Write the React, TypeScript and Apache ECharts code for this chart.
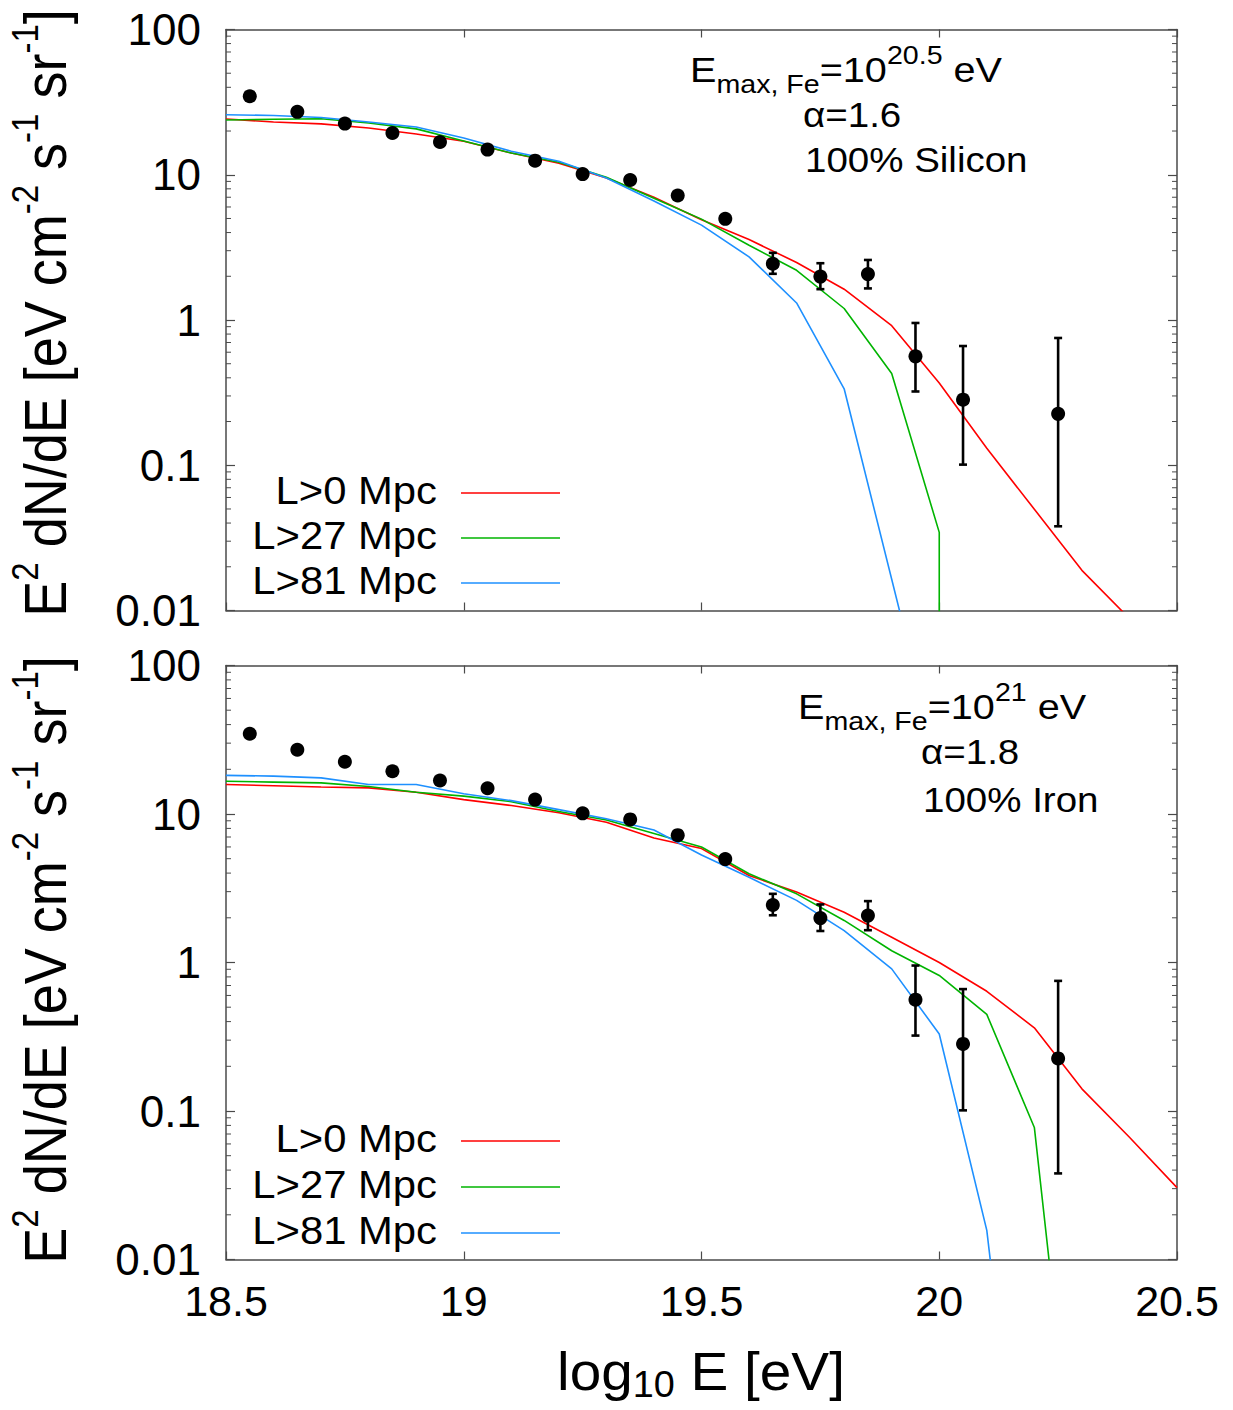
import React, { useEffect, useRef } from 'react';
import * as echarts from 'echarts';

const FONT = "'Liberation Sans', Arial, Helvetica, sans-serif";
const FRAME = '#4a4a4a';

// axis ticks
const xTickValues = [18.5, 19, 19.5, 20, 20.5];
const xTickLabels = ['18.5', '19', '19.5', '20', '20.5'];
const yTickValues = [0.01, 0.1, 1, 10, 100];
const yTickLabels = ['0.01', '0.1', '1', '10', '100'];
const minorTickValues = [
  0.02, 0.03, 0.04, 0.05, 0.06, 0.07, 0.08, 0.09,
  0.2, 0.3, 0.4, 0.5, 0.6, 0.7, 0.8, 0.9,
  2, 3, 4, 5, 6, 7, 8, 9,
  20, 30, 40, 50, 60, 70, 80, 90,
];

// model energy grid (log10 E)
const energyGrid = [18.5, 18.6, 18.7, 18.8, 18.9, 19.0, 19.1, 19.2, 19.3, 19.4, 19.5,
  19.6, 19.7, 19.8, 19.9, 20.0, 20.1, 20.2, 20.3, 20.4, 20.5];

// measured spectrum (same in both panels)
const dataEnergy = [18.55, 18.65, 18.75, 18.85, 18.95, 19.05, 19.15, 19.25, 19.35, 19.45,
  19.55, 19.65, 19.75, 19.85, 19.95, 20.05, 20.25];
const dataFlux = [34.7, 27.1, 22.5, 19.4, 16.8, 14.9, 12.5, 10.1, 9.2, 7.2,
  4.97, 2.44, 1.99, 2.07, 0.562, 0.283, 0.226];
const errEnergy = [19.65, 19.75, 19.85, 19.95, 20.05, 20.25];
const errLow = [2.08, 1.63, 1.65, 0.322, 0.101, 0.038];
const errHigh = [2.9, 2.46, 2.59, 0.954, 0.662, 0.752];

// panel 1: 100% Silicon, Emax,Fe = 10^20.5 eV, alpha = 1.6
const siL0 = [24.2, 23.1, 22.4, 21.0, 19.1, 17.0, 14.1, 12.0, 9.5, 7.0, 4.9,
  3.58, 2.49, 1.63, 0.914, 0.368, 0.131, 0.0497, 0.0189, 0.0088];
const siL27 = [23.8, 24.1, 24.3, 22.7, 20.7, 17.1, 14.1, 12.2, 9.6, 6.9, 4.95,
  3.27, 2.2, 1.2, 0.428, 0.0345];
const siL27Cutoff = 0.001;
const siL81 = [25.9, 25.6, 24.8, 23.1, 21.3, 17.9, 14.5, 12.4, 9.5, 6.6, 4.5,
  2.72, 1.31, 0.336, 0.0164, 0.0008];

// panel 2: 100% Iron, Emax,Fe = 10^21 eV, alpha = 1.8
const feL0 = [15.8, 15.5, 15.2, 15.0, 14.0, 12.5, 11.4, 10.2, 8.8, 6.9, 5.85,
  3.85, 2.98, 2.18, 1.48, 1.0, 0.64, 0.363, 0.141, 0.0665, 0.0305];
const feL27 = [16.6, 16.4, 16.2, 15.3, 14.0, 13.2, 12.1, 10.4, 9.1, 7.4, 6.0,
  3.96, 2.9, 1.92, 1.2, 0.818, 0.447, 0.0775, 0.0001];
const feL81 = [18.2, 18.0, 17.5, 15.8, 15.8, 13.7, 12.3, 10.7, 9.3, 7.8, 5.3,
  3.75, 2.62, 1.64, 0.906, 0.33, 0.0157, 0.00003];

const seriesNames = ['L>0 Mpc', 'L>27 Mpc', 'L>81 Mpc'];
const seriesColors = ['#ff0000', '#00b400', '#1e90ff'];

function pairs(values: number[]) {
  return values.map((v, i) => [energyGrid[i], v]);
}

function lineSeries(panel: number, idx: number, data: number[][]) {
  return {
    name: seriesNames[idx],
    type: 'line',
    xAxisIndex: panel * 2,
    yAxisIndex: panel * 2,
    data,
    showSymbol: false,
    symbol: 'none',
    lineStyle: { color: seriesColors[idx], width: 1.6 },
    itemStyle: { color: seriesColors[idx] },
    clip: true,
    silent: true,
    z: 2,
  };
}

function pointSeries(panel: number) {
  return {
    name: 'data',
    type: 'scatter',
    xAxisIndex: panel * 2,
    yAxisIndex: panel * 2,
    data: dataEnergy.map((e, i) => [e, dataFlux[i]]),
    symbol: 'circle',
    symbolSize: 14,
    itemStyle: { color: '#000', opacity: 1 },
    silent: true,
    z: 5,
  };
}

function errorSeries(panel: number) {
  return {
    type: 'custom',
    xAxisIndex: panel * 2,
    yAxisIndex: panel * 2,
    data: errEnergy.map((e, i) => [e, errLow[i], errHigh[i]]),
    encode: { x: 0, y: [1, 2] },
    silent: true,
    z: 4,
    renderItem: (params: any, api: any) => {
      const x = api.value(0);
      const lo = api.coord([x, api.value(1)]);
      const hi = api.coord([x, api.value(2)]);
      const c = 4;
      const st = { stroke: '#000', lineWidth: 2.6 };
      return {
        type: 'group',
        children: [
          { type: 'line', shape: { x1: lo[0], y1: lo[1], x2: hi[0], y2: hi[1] }, style: st },
          { type: 'line', shape: { x1: lo[0] - c, y1: lo[1], x2: lo[0] + c, y2: lo[1] }, style: st },
          { type: 'line', shape: { x1: hi[0] - c, y1: hi[1], x2: hi[0] + c, y2: hi[1] }, style: st },
        ],
      };
    },
  };
}

function minorTickSeries(panel: number) {
  return {
    type: 'custom',
    xAxisIndex: panel * 2,
    yAxisIndex: panel * 2,
    data: minorTickValues.map((v) => [xTickValues[0], v]),
    encode: { x: 0, y: 1 },
    silent: true,
    clip: false,
    z: 6,
    renderItem: (params: any, api: any) => {
      const v = api.value(1);
      const l = api.coord([xTickValues[0], v]);
      const r = api.coord([xTickValues[xTickValues.length - 1], v]);
      const st = { stroke: FRAME, lineWidth: 1 };
      return {
        type: 'group',
        children: [
          { type: 'line', shape: { x1: l[0], y1: l[1], x2: l[0] + 5, y2: l[1] }, style: st },
          { type: 'line', shape: { x1: r[0] - 5, y1: r[1], x2: r[0], y2: r[1] }, style: st },
        ],
      };
    },
  };
}

function yLabelFormatter(v: number) {
  const i = yTickValues.findIndex((t) => Math.abs(Math.log10(t) - Math.log10(v)) < 1e-6);
  return i >= 0 ? yTickLabels[i] : '';
}
function xLabelFormatter(v: number) {
  const i = xTickValues.findIndex((t) => Math.abs(t - v) < 1e-6);
  return i >= 0 ? xTickLabels[i] : '';
}

function buildOption() {
  const axisLine = { show: true, onZero: false, lineStyle: { color: FRAME, width: 1.5 } };
  const xCommon = {
    type: 'value', min: 18.5, max: 20.5, interval: 0.5,
    splitLine: { show: false }, axisLine,
    axisTick: { show: true, inside: true, length: 8, lineStyle: { color: FRAME, width: 1.2 } },
  };
  const yCommon = {
    type: 'log', logBase: 10, min: 0.01, max: 100,
    splitLine: { show: false }, axisLine,
    axisTick: { show: true, inside: true, length: 9, lineStyle: { color: FRAME, width: 1.2 } },
  };
  const xLabel = {
    show: true, fontSize: 43, color: '#000', fontFamily: FONT, margin: 20,
    showMinLabel: true, showMaxLabel: true, formatter: xLabelFormatter,
  };
  const yLabel = {
    show: true, fontSize: 44, color: '#000', fontFamily: FONT, margin: 25,
    showMinLabel: true, showMaxLabel: true, formatter: yLabelFormatter,
  };

  const series: any[] = [];
  const panels = [
    [pairs(siL0), [...pairs(siL27), [energyGrid[siL27.length - 1], siL27Cutoff]], pairs(siL81)],
    [pairs(feL0), pairs(feL27), pairs(feL81)],
  ];
  panels.forEach((curves, p) => {
    curves.forEach((d, i) => series.push(lineSeries(p, i, d)));
    series.push(errorSeries(p));
    series.push(pointSeries(p));
    series.push(minorTickSeries(p));
  });

  // rich styles
  const yRich = {
    b: { fontSize: 54, lineHeight: 54, padding: [8, 0, 0, 0], verticalAlign: 'top', fontFamily: FONT, color: '#000' },
    s: { fontSize: 33, lineHeight: 33, padding: [0, 0, 0, 0], verticalAlign: 'top', fontFamily: FONT, color: '#000' },
  };
  const yText = '{b|E}{s|2}{b| dN/dE [eV cm}{s|-2}{b| s}{s|-1}{b| sr}{s|-1}{b|]}';
  const annRich = {
    b: { fontSize: 36, lineHeight: 36, padding: [10, 0, 0, 0], verticalAlign: 'top', fontFamily: FONT, color: '#000' },
    sub: { fontSize: 26, lineHeight: 26, padding: [29, 0, 0, 0], verticalAlign: 'top', fontFamily: FONT, color: '#000' },
    sup: { fontSize: 26, lineHeight: 26, padding: [0, 0, 0, 0], verticalAlign: 'top', fontFamily: FONT, color: '#000' },
  };
  const xRich = {
    b: { fontSize: 54, lineHeight: 54, padding: [0, 0, 0, 0], verticalAlign: 'top', fontFamily: FONT, color: '#000' },
    sub: { fontSize: 36, lineHeight: 36, padding: [23, 0, 0, 0], verticalAlign: 'top', fontFamily: FONT, color: '#000' },
  };

  const txt = (x: number, y: number, text: string, align: string, size: number, extra: any = {}) => ({
    type: 'text', x, y, scaleX: 1.1, silent: true, z: 10,
    style: {
      text, fontSize: size, fontFamily: FONT, fill: '#000',
      textAlign: align, textVerticalAlign: 'middle', align, verticalAlign: 'middle',
    },
    ...extra,
  });

  const legendRows = [
    { ty: [491, 536, 581], ly: [493, 538, 583] },
    { ty: [1139, 1185, 1231], ly: [1141, 1187, 1233] },
  ];
  const graphic: any[] = [];
  legendRows.forEach((row) => {
    seriesNames.forEach((n, i) => {
      graphic.push(txt(437, row.ty[i], n, 'right', 38));
      graphic.push({
        type: 'line', silent: true, z: 10,
        shape: { x1: 461, y1: row.ly[i], x2: 560, y2: row.ly[i] },
        style: { stroke: seriesColors[i], lineWidth: 1.6 },
      });
    });
  });

  // y axis titles (rotated)
  [313, 960].forEach((cy) => {
    graphic.push({
      type: 'text', x: 37, y: cy, rotation: Math.PI / 2, scaleY: 1.1, silent: true, z: 10,
      style: {
        text: yText, rich: yRich, fontFamily: FONT, fill: '#000',
        textAlign: 'center', textVerticalAlign: 'middle', align: 'center', verticalAlign: 'middle',
      },
    });
  });

  // annotations
  const ann = [
    { x1: 690, y1: 60, sup: '20.5', x2: 803, y2: 115, a: '\u03b1=1.6', y3: 160, c: '100% Silicon' },
    { x1: 798, y1: 697, sup: '21', x2: 921, y2: 752, a: '\u03b1=1.8', y3: 800, c: '100% Iron' },
  ];
  ann.forEach((an) => {
    graphic.push({
      type: 'text', x: an.x1, y: an.y1, scaleX: 1.1, silent: true, z: 10,
      style: {
        text: `{b|E}{sub|max, Fe}{b|=10}{sup|${an.sup}}{b| eV}`, rich: annRich, fontFamily: FONT, fill: '#000',
        textAlign: 'left', textVerticalAlign: 'middle', align: 'left', verticalAlign: 'middle',
      },
    });
    graphic.push(txt(an.x2, an.y2, an.a, 'left', 35));
    graphic.push(txt(an.x2 + 2, an.y3, an.c, 'left', 35));
  });

  // x axis title
  graphic.push({
    type: 'text', x: 701, y: 1371, scaleX: 1.05, silent: true, z: 10,
    style: {
      text: '{b|log}{sub|10}{b| E [eV]}', rich: xRich, fontFamily: FONT, fill: '#000',
      textAlign: 'center', textVerticalAlign: 'middle', align: 'center', verticalAlign: 'middle',
    },
  });

  return {
    animation: false,
    backgroundColor: '#fff',
    textStyle: { fontFamily: FONT },
    grid: [
      { left: 226, top: 29.5, width: 951, height: 581, containLabel: false },
      { left: 226, top: 665.5, width: 951, height: 594, containLabel: false },
    ],
    xAxis: [
      { ...xCommon, gridIndex: 0, position: 'bottom', axisLabel: { show: false } },
      { ...xCommon, gridIndex: 0, position: 'top', axisLabel: { show: false } },
      { ...xCommon, gridIndex: 1, position: 'bottom', axisLabel: xLabel },
      { ...xCommon, gridIndex: 1, position: 'top', axisLabel: { show: false } },
    ],
    yAxis: [
      { ...yCommon, gridIndex: 0, position: 'left', axisLabel: yLabel },
      { ...yCommon, gridIndex: 0, position: 'right', axisLabel: { show: false } },
      { ...yCommon, gridIndex: 1, position: 'left', axisLabel: yLabel },
      { ...yCommon, gridIndex: 1, position: 'right', axisLabel: { show: false } },
    ],
    series,
    graphic,
  };
}

export default function App() {
  const ref = useRef<HTMLDivElement>(null);
  useEffect(() => {
    if (!ref.current) return;
    const chart = echarts.init(ref.current, null, { renderer: 'svg' });
    chart.setOption(buildOption() as any);
    return () => chart.dispose();
  }, []);
  return (
    <div
      ref={ref}
      style={{ position: 'absolute', left: 0, top: 0, width: 1233, height: 1410, background: '#fff' }}
    />
  );
}
